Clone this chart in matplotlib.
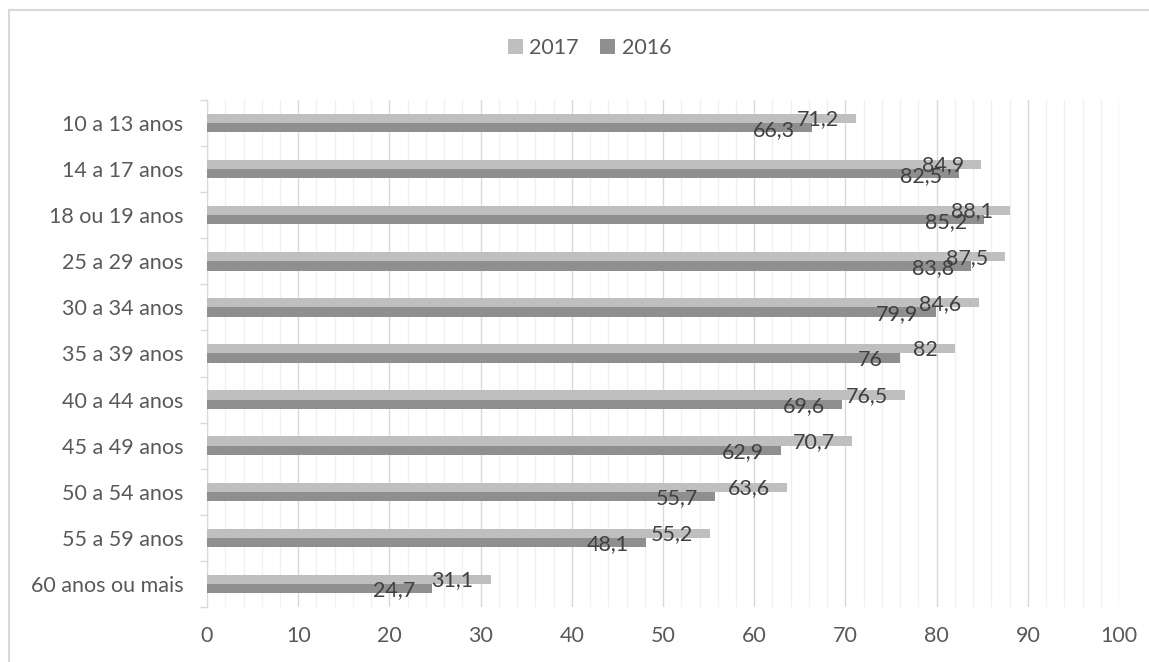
import numpy as np
import matplotlib.pyplot as plt
from matplotlib.lines import Line2D

plt.rcParams['font.family'] = ['Lato', 'DejaVu Sans']

# Dados
faixas = ['10 a 13 anos', '14 a 17 anos', '18 ou 19 anos', '25 a 29 anos',
          '30 a 34 anos', '35 a 39 anos', '40 a 44 anos', '45 a 49 anos',
          '50 a 54 anos', '55 a 59 anos', '60 anos ou mais']
v2017 = [71.2, 84.9, 88.1, 87.5, 84.6, 82, 76.5, 70.7, 63.6, 55.2, 31.1]
v2016 = [66.3, 82.5, 85.2, 83.8, 79.9, 76, 69.6, 62.9, 55.7, 48.1, 24.7]
rot2017 = ['71,2', '84,9', '88,1', '87,5', '84,6', '82', '76,5', '70,7', '63,6', '55,2', '31,1']
rot2016 = ['66,3', '82,5', '85,2', '83,8', '79,9', '76', '69,6', '62,9', '55,7', '48,1', '24,7']

cor2017 = '#BFBFBF'
cor2016 = '#8F8F8F'
cinza_txt = '#595959'
fs = 15.5

fig = plt.figure(figsize=(11.49, 6.62), dpi=100)
ax = fig.add_axes([0.1802, 0.0831, 0.7937, 0.7659])

y = np.arange(len(faixas))
h = 0.2
b1 = ax.barh(y - h / 2, v2017, height=h, color=cor2017, label='2017', zorder=3)
b2 = ax.barh(y + h / 2, v2016, height=h, color=cor2016, label='2016', zorder=3)

# rotulos de dados
for i in range(len(faixas)):
    ax.annotate(rot2017[i], (v2017[i], y[i] - h / 2), xytext=(-17, -1),
                textcoords='offset pixels', ha='right', va='center',
                fontsize=fs, color='#404040', zorder=4)
    ax.annotate(rot2016[i], (v2016[i], y[i] + h / 2), xytext=(-17, -2),
                textcoords='offset pixels', ha='right', va='center',
                fontsize=fs, color='#404040', zorder=4)

ax.set_xlim(0, 100)
ax.set_ylim(len(faixas) - 0.5, -0.5)

ax.set_xticks(np.arange(0, 101, 10))
ax.set_xticks(np.arange(0, 101, 2), minor=True)
ax.set_yticks(y)
ax.set_yticklabels(faixas)
ax.set_yticks(np.arange(-0.5, len(faixas), 1), minor=True)

ax.grid(axis='x', which='major', color='#D9D9D9', lw=1, zorder=0)
ax.grid(axis='x', which='minor', color='#F0F0F0', lw=1, zorder=0)
ax.set_axisbelow(True)

ax.tick_params(axis='x', which='both', length=0, pad=14, labelsize=fs, labelcolor=cinza_txt)
ax.tick_params(axis='y', which='major', length=0, pad=17, labelsize=fs, labelcolor=cinza_txt)
ax.tick_params(axis='y', which='minor', length=5, color='#D9D9D9', width=1)

for s in ['top', 'right', 'bottom']:
    ax.spines[s].set_visible(False)
ax.spines['left'].set_color('#D9D9D9')

fig.legend(handles=[b1, b2], labels=['2017', '2016'], loc='center',
           bbox_to_anchor=(0.513, 1 - 48 / 662), ncol=2, frameon=False,
           fontsize=fs, handlelength=0.7, handleheight=0.7,
           handletextpad=0.3, columnspacing=1.0, labelcolor=cinza_txt)

# moldura do grafico
fig.add_artist(Line2D([9 / 1149, 1], [1 - 10 / 662, 1 - 10 / 662],
                      transform=fig.transFigure, color='#D9D9D9', lw=1.5))
fig.add_artist(Line2D([9 / 1149, 9 / 1149], [0, 1 - 10 / 662],
                      transform=fig.transFigure, color='#D9D9D9', lw=1.5))

fig.savefig('out.png', dpi=100, facecolor='white')
